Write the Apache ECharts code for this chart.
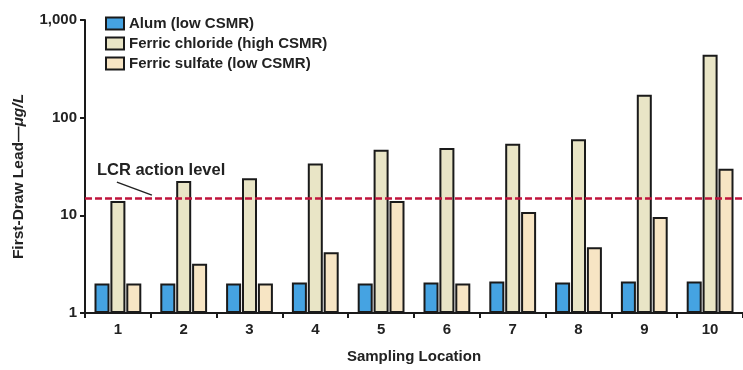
<!DOCTYPE html>
<html>
<head>
<meta charset="utf-8">
<script src="https://cdn.jsdelivr.net/npm/echarts@6/dist/echarts.min.js"></script>
<style>
  html, body { margin: 0; padding: 0; background: #fff; }
  #chart { width: 743px; height: 370px; }
</style>
</head>
<body>
<div id="chart"></div>
<script>
// Sampling locations on the x axis
const locations = ['1', '2', '3', '4', '5', '6', '7', '8', '9', '10'];

// First-draw lead, µg/L, per coagulant
const alumLow = [2.0, 2.0, 2.0, 2.05, 2.0, 2.05, 2.1, 2.05, 2.1, 2.1];
const ferricChlorideHigh = [14, 22.5, 24, 34, 47, 49, 54, 60, 172, 440];
const ferricSulfateLow = [2.0, 3.2, 2.0, 4.2, 14, 2.0, 10.8, 4.7, 9.6, 30];

// Lead and Copper Rule action level, µg/L
const actionLevel = 15;

// Log axis tick values
const yTicks = [1, 10, 100, 1000];

const seriesNames = ['Alum (low CSMR)', 'Ferric chloride (high CSMR)', 'Ferric sulfate (low CSMR)'];
const FONT = '"Liberation Sans", Arial, Helvetica, sans-serif';

const chart = echarts.init(document.getElementById('chart'));

function barSeries(name, data, color) {
  return {
    name: name,
    type: 'bar',
    data: data,
    barWidth: 15,
    barGap: '6%',
    itemStyle: { color: color, borderColor: '#1a1a1a', borderWidth: 2 }
  };
}

const series = [
  barSeries(seriesNames[0], alumLow, '#45a3e2'),
  barSeries(seriesNames[1], ferricChlorideHigh, '#e9e5c6'),
  barSeries(seriesNames[2], ferricSulfateLow, '#f7e5c4')
];

// Dashed action-level line
series[1].markLine = {
  silent: true,
  symbol: 'none',
  label: { show: false },
  lineStyle: { color: '#c0143c', type: [7, 3], width: 2.5 },
  data: [{ yAxis: actionLevel }]
};

chart.setOption({
  animation: false,
  backgroundColor: '#fff',
  textStyle: { fontFamily: FONT },
  grid: { left: 85, right: 0, top: 20, bottom: 57 },
  legend: {
    orient: 'vertical',
    left: 100,
    top: 11,
    itemGap: 5,
    itemWidth: 18,
    itemHeight: 12,
    icon: 'rect',
    data: seriesNames,
    textStyle: { fontFamily: FONT, fontWeight: 'bold', fontSize: 15, color: '#222' }
  },
  xAxis: {
    type: 'category',
    data: locations,
    name: 'Sampling Location',
    nameLocation: 'middle',
    nameGap: 36,
    nameTextStyle: { fontFamily: FONT, fontWeight: 'bold', fontSize: 15, color: '#222' },
    axisLine: { lineStyle: { color: '#1a1a1a', width: 2 } },
    axisTick: { show: true, alignWithLabel: false, length: 5, lineStyle: { color: '#1a1a1a', width: 2 } },
    axisLabel: { fontFamily: FONT, fontWeight: 'bold', fontSize: 15, color: '#222', margin: 9 },
    splitLine: { show: false }
  },
  yAxis: {
    type: 'log',
    logBase: 10,
    min: yTicks[0],
    max: yTicks[yTicks.length - 1],
    name: '{n|First-Draw Lead—}{u|μg/L}',
    nameLocation: 'middle',
    nameGap: 58,
    nameTextStyle: {
      padding: [0, 20, 0, 0],
      rich: {
        n: { fontFamily: FONT, fontWeight: 'bold', fontSize: 15.5, color: '#222' },
        u: { fontFamily: FONT, fontWeight: 'bold', fontStyle: 'italic', fontSize: 15.5, color: '#222' }
      }
    },
    axisLine: { show: true, lineStyle: { color: '#1a1a1a', width: 2 } },
    axisTick: { show: true, length: 5, lineStyle: { color: '#1a1a1a', width: 2 } },
    axisLabel: {
      fontFamily: FONT, fontWeight: 'bold', fontSize: 15, color: '#222', margin: 8,
      formatter: v => Number(v).toLocaleString('en-US')
    },
    splitLine: { show: false },
    minorTick: { show: false }
  },
  series: series
});

// Callout for the action-level line, anchored to data coordinates
function placeCallout() {
  const anchor = chart.convertToPixel({ xAxisIndex: 0, yAxisIndex: 0 }, ['1', actionLevel]);
  chart.setOption({
    graphic: [
      {
        type: 'text',
        left: anchor[0] - 21,
        top: anchor[1] - 36,
        style: { text: 'LCR action level', font: 'bold 16.5px ' + FONT, fill: '#222' }
      },
      {
        type: 'line',
        shape: { x1: anchor[0] - 1, y1: anchor[1] - 16, x2: anchor[0] + 34, y2: anchor[1] - 3 },
        style: { stroke: '#222', lineWidth: 1.5 }
      }
    ]
  });
}
placeCallout();
</script>
</body>
</html>
